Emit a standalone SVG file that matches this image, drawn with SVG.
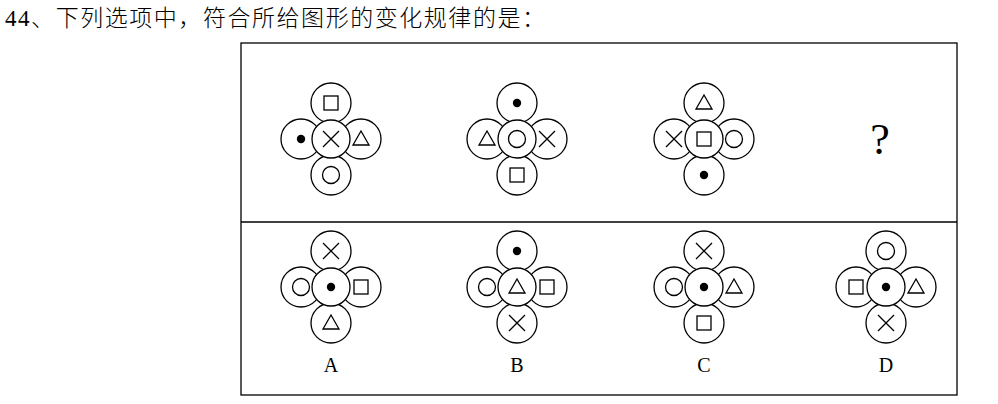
<svg xmlns="http://www.w3.org/2000/svg" xmlns:xlink="http://www.w3.org/1999/xlink" width="998" height="404" viewBox="0 0 998 404">
<style>
.c{fill:#fff;stroke:#000;stroke-width:1.3}
.s{fill:none;stroke:#000;stroke-width:1.3}
.t{font-family:"Liberation Serif","Noto Sans CJK SC",serif;fill:#000}
</style>
<defs>
<g id="sq"><rect x="-7" y="-7" width="14" height="14" class="s"/></g>
<g id="dot"><circle r="4.2" fill="#000"/></g>
<g id="x"><path d="M-8,-8L8,8M8,-8L-8,8" class="s"/></g>
<g id="tri"><path d="M0,-8L8,6H-8Z" class="s"/></g>
<g id="ci"><circle r="8.5" class="s"/></g>
<g id="base">
<circle cx="0" cy="-36" r="20" class="c"/>
<circle cx="0" cy="36" r="20" class="c"/>
<circle cx="-30" cy="0" r="20" class="c"/>
<circle cx="30" cy="0" r="20" class="c"/>
<circle cx="0" cy="0" r="19" class="c"/>
</g>
</defs>
<text x="5" y="26" class="t" font-size="23" font-weight="300" textLength="540" lengthAdjust="spacing">44、下列选项中，符合所给图形的变化规律的是：</text>
<rect x="241" y="43" width="716" height="352" class="s"/>
<line x1="241" y1="222" x2="957" y2="222" class="s"/>
<g id="fig1" transform="translate(331,139)"><use href="#base"/><use href="#sq" y="-36"/><use href="#dot" x="-30"/><use href="#x"/><use href="#tri" x="30"/><use href="#ci" y="36"/></g>
<g id="fig2" transform="translate(517,139)"><use href="#base"/><use href="#dot" y="-36"/><use href="#tri" x="-30"/><use href="#ci"/><use href="#x" x="30"/><use href="#sq" y="36"/></g>
<g id="fig3" transform="translate(704,139)"><use href="#base"/><use href="#tri" y="-36"/><use href="#x" x="-30"/><use href="#sq"/><use href="#ci" x="30"/><use href="#dot" y="36"/></g>
<text x="880" y="154" class="t" font-size="44" text-anchor="middle">?</text>
<g id="optA" transform="translate(331,287)"><use href="#base"/><use href="#x" y="-36"/><use href="#ci" x="-30"/><use href="#dot"/><use href="#sq" x="30"/><use href="#tri" y="36"/></g>
<g id="optB" transform="translate(517,287)"><use href="#base"/><use href="#dot" y="-36"/><use href="#ci" x="-30"/><use href="#tri"/><use href="#sq" x="30"/><use href="#x" y="36"/></g>
<g id="optC" transform="translate(704,287)"><use href="#base"/><use href="#x" y="-36"/><use href="#ci" x="-30"/><use href="#dot"/><use href="#tri" x="30"/><use href="#sq" y="36"/></g>
<g id="optD" transform="translate(886,287)"><use href="#base"/><use href="#ci" y="-36"/><use href="#sq" x="-30"/><use href="#dot"/><use href="#tri" x="30"/><use href="#x" y="36"/></g>
<g class="t" font-size="20" text-anchor="middle">
<text x="331" y="372">A</text><text x="517" y="372">B</text><text x="704" y="372">C</text><text x="886" y="372">D</text>
</g>
</svg>
